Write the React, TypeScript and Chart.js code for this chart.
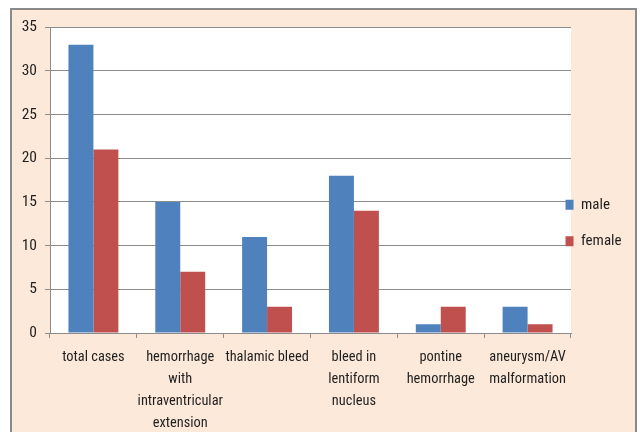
import React, { useEffect, useRef } from "react";
import { Chart, registerables } from "chart.js";

Chart.register(...registerables);

const categories: (string | string[])[] = [
  "total cases",
  ["hemorrhage", "with", "intraventricular", "extension"],
  "thalamic bleed",
  ["bleed in", "lentiform", "nucleus"],
  ["pontine", "hemorrhage"],
  ["aneurysm/AV", "malformation"],
];
const maleValues = [33, 15, 11, 18, 1, 3];
const femaleValues = [21, 7, 3, 14, 3, 1];
const seriesNames = ["male", "female"];
const yMin = 0;
const yMax = 35;
const yStep = 5;

const FONT = "'Roboto Condensed', Carlito, 'Liberation Sans', sans-serif";
const TEXT = "#1f1f1f";
const GRID = "#8c8c8c";

const plotBg = {
  id: "plotBg",
  beforeDraw(chart: any) {
    const { ctx, chartArea } = chart;
    ctx.save();
    ctx.fillStyle = "#ffffff";
    ctx.fillRect(chartArea.left, chartArea.top, chartArea.right - chartArea.left, chartArea.bottom - chartArea.top);
    ctx.restore();
  },
};

const legendShift = {
  id: "legendShift",
  afterLayout(chart: any) {
    const lg = chart.legend;
    if (lg) {
      lg.left -= 27;
    }
  },
};

export default function App() {
  const ref = useRef<HTMLCanvasElement | null>(null);
  useEffect(() => {
    if (!ref.current) return;
    const chart = new Chart(ref.current, {
      type: "bar",
      data: {
        labels: categories,
        datasets: [
          {
            label: seriesNames[0],
            data: maleValues,
            backgroundColor: "#4F81BD",
            categoryPercentage: 0.575,
            barPercentage: 1,
          },
          {
            label: seriesNames[1],
            data: femaleValues,
            backgroundColor: "#C0504D",
            categoryPercentage: 0.575,
            barPercentage: 1,
          },
        ],
      },
      options: {
        responsive: false,
        maintainAspectRatio: false,
        animation: false,
        devicePixelRatio: 1,
        layout: { padding: { top: 4, bottom: 0, left: 0, right: 0 } },
        plugins: {
          tooltip: { enabled: false },
          legend: {
            position: "right",
            maxWidth: 64,
            labels: {
              font: { family: FONT, size: 15 },
              color: TEXT,
              boxWidth: 8,
              boxHeight: 10,
              padding: 21.5,
            },
          },
        },
        scales: {
          x: {
            grid: {
              offset: true,
              drawOnChartArea: false,
              drawTicks: true,
              tickLength: 5,
              color: GRID,
            },
            border: { color: GRID, width: 1 },
            ticks: {
              font: { family: FONT, size: 14.4, lineHeight: 1.51 },
              color: TEXT,
              padding: 9,
              maxRotation: 0,
              autoSkip: false,
            },
            afterFit(scale: any) {
              scale.height = 99;
            },
          },
          y: {
            min: yMin,
            max: yMax,
            grid: { color: GRID, tickLength: 5, drawTicks: true },
            border: { color: GRID, width: 1 },
            ticks: {
              stepSize: yStep,
              font: { family: FONT, size: 15.5 },
              color: TEXT,
              padding: 8,
            },
            afterFit(scale: any) {
              scale.width = 38;
            },
          },
        },
      },
      plugins: [plotBg, legendShift],
    });
    return () => chart.destroy();
  }, []);

  return (
    <div
      style={{
        position: "fixed",
        left: 10,
        top: 8,
        width: 627,
        height: 424,
        boxSizing: "border-box",
        border: "2px solid #8a8a8a",
        borderBottom: "none",
        background: "#FDE9D9",
        overflow: "hidden",
      }}
    >
      <canvas ref={ref} width={623} height={422} style={{ display: "block" }} />
    </div>
  );
}
